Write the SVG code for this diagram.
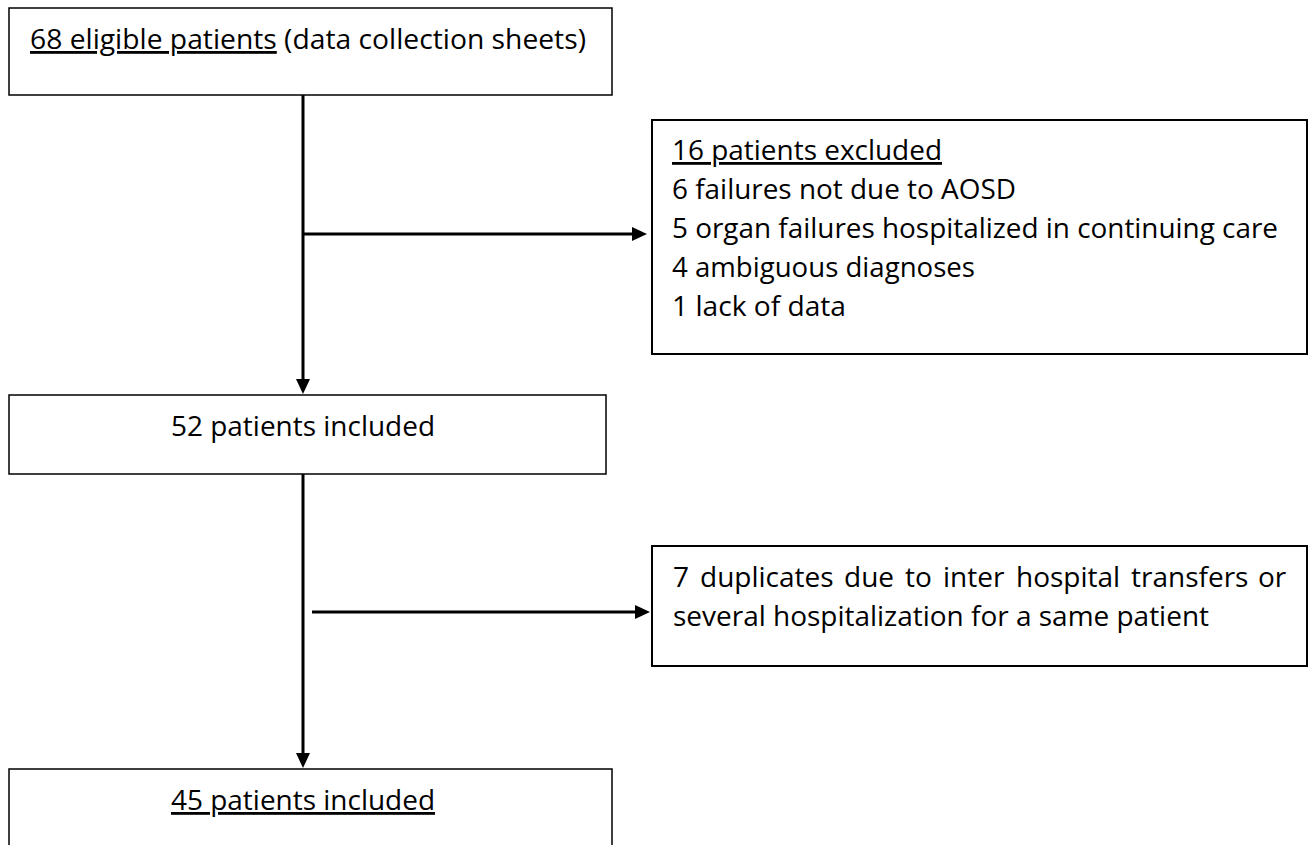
<svg xmlns="http://www.w3.org/2000/svg" width="1316" height="845" viewBox="0 0 1316 845">
  <defs>
    <marker id="arr" viewBox="0 0 15 14" refX="4" refY="7" markerWidth="5" markerHeight="4.667" orient="auto" markerUnits="strokeWidth">
      <path d="M0,0 L15,7 L0,14 Z" fill="#000"/>
    </marker>
    <style>
      .box { fill: #fff; stroke: #000; stroke-width: 1.5; }
      .box2 { fill: #fff; stroke: #000; stroke-width: 2; }
      .t { font-family: "Open Sans", "Liberation Sans", sans-serif; font-size: 28px; fill: #000; }
      .u { text-decoration: underline; }
      .c { stroke: #000; stroke-width: 3; fill: none; }
    </style>
  </defs>
  <rect width="1316" height="845" fill="#fff"/>

  <g id="connectors">
    <line class="c" x1="303" y1="95" x2="303" y2="383" marker-end="url(#arr)"/>
    <line class="c" x1="304" y1="234" x2="636" y2="234" marker-end="url(#arr)"/>
    <line class="c" x1="303" y1="474" x2="303" y2="757" marker-end="url(#arr)"/>
    <line class="c" x1="312" y1="612" x2="639" y2="612" marker-end="url(#arr)"/>
  </g>

  <g id="eligible">
    <rect class="box" x="9" y="8" width="603" height="87"/>
    <text class="t" x="30" y="49" textLength="556" lengthAdjust="spacingAndGlyphs"><tspan class="u">68 eligible patients</tspan> (data collection sheets)</text>
  </g>

  <g id="excluded">
    <rect class="box2" x="652" y="120" width="655" height="234"/>
    <text class="t" x="672" y="160" textLength="270" lengthAdjust="spacingAndGlyphs"><tspan class="u">16 patients excluded</tspan></text>
    <text class="t" x="672" y="199" textLength="344" lengthAdjust="spacingAndGlyphs">6 failures not due to AOSD</text>
    <text class="t" x="672" y="238" textLength="606" lengthAdjust="spacingAndGlyphs">5 organ failures hospitalized in continuing care</text>
    <text class="t" x="672" y="277" textLength="303" lengthAdjust="spacingAndGlyphs">4 ambiguous diagnoses</text>
    <text class="t" x="672" y="316" textLength="174" lengthAdjust="spacingAndGlyphs">1 lack of data</text>
  </g>

  <g id="included52">
    <rect class="box" x="9" y="395" width="597" height="79"/>
    <text class="t" x="303" y="436" text-anchor="middle" textLength="264" lengthAdjust="spacingAndGlyphs">52 patients included</text>
  </g>

  <g id="duplicates">
    <rect class="box2" x="652" y="546" width="655" height="120"/>
    <text class="t" y="587"><tspan x="673">7</tspan><tspan x="700">duplicates</tspan><tspan x="844">due</tspan><tspan x="905">to</tspan><tspan x="943">inter</tspan><tspan x="1016">hospital</tspan><tspan x="1131">transfers</tspan><tspan x="1258">or</tspan></text>
    <text class="t" x="673" y="626" textLength="536" lengthAdjust="spacingAndGlyphs">several hospitalization for a same patient</text>
  </g>

  <g id="included45">
    <rect class="box" x="9" y="769" width="603" height="90"/>
    <text class="t" x="303" y="810" text-anchor="middle" textLength="264" lengthAdjust="spacingAndGlyphs"><tspan class="u">45 patients included</tspan></text>
  </g>
</svg>
